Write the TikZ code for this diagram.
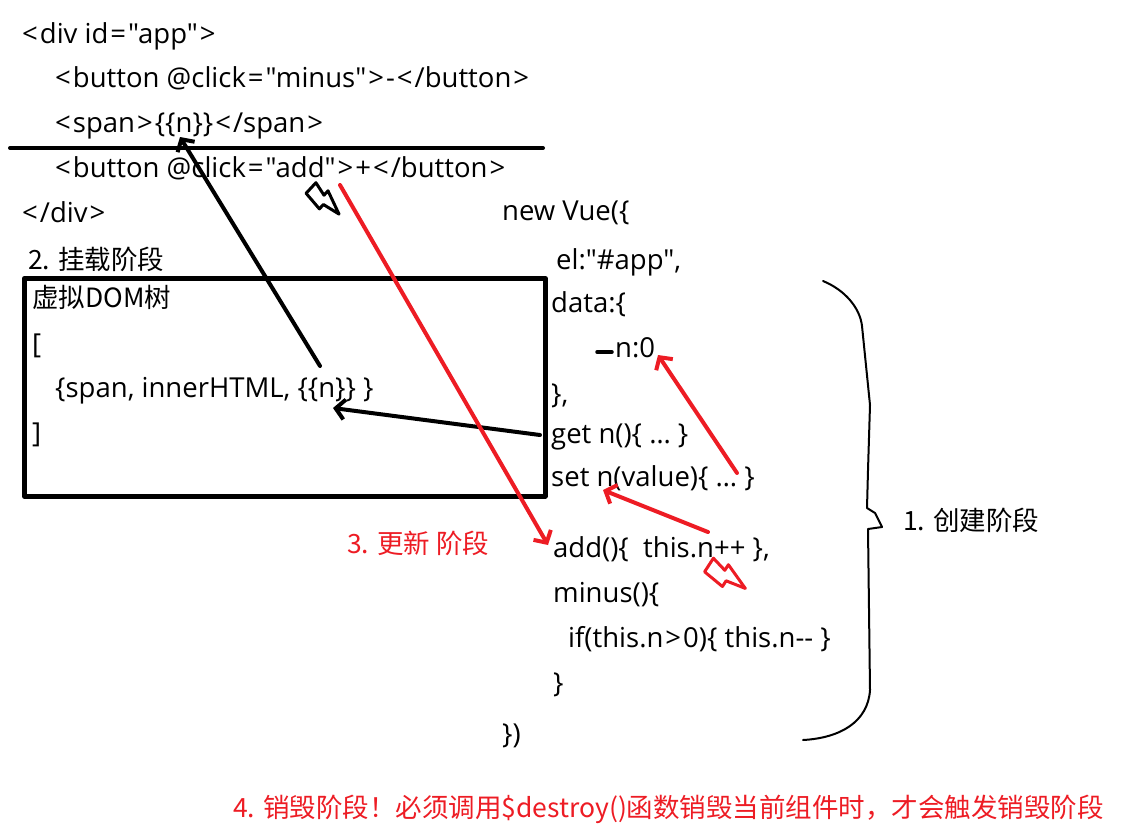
\documentclass[tikz,border=0pt]{standalone}
\usepackage{fontspec}
\setmainfont{Open Sans}
\newfontfamily\codefont{Open Sans}
\newfontfamily\cjk{Noto Sans CJK SC}
\usetikzlibrary{arrows.meta}
\definecolor{paintred}{RGB}{237,28,36}
\newcommand\ltc{\kern2pt<\kern2pt}
\newcommand\gtc{\kern2pt>\kern2pt}
\newcommand\eqc{\kern2pt=\kern2pt}

\begin{document}
\begin{tikzpicture}[x=1pt, y=-1pt, line cap=round, line join=round,
        every node/.append style={inner sep=0pt, anchor=west,
          text height=20pt, text depth=0pt}]
      \tikzstyle{code} = [font=\fontsize{27.5}{32}\selectfont\codefont, color=black]
      \tikzstyle{stage} = [font=\fontsize{26.5}{31}\selectfont\cjk, color=black]
      \tikzstyle{redstage} = [stage, color=paintred]
      \tikzstyle{blackarrow} = [line width=4pt, -{Straight Barb[length=9pt,width=20pt]}]
      \tikzstyle{redarrow} = [blackarrow, draw=paintred]
      \tikzstyle{bolt} = [line width=3pt]
      \useasboundingbox (0,0) rectangle (1142,830);
      % template
      \node[code] (divopen) at (20,33) {\ltc div id\eqc"app"\gtc};
      \node[code] (btnminus) at (53,77) {\ltc button @click\eqc"minus"\gtc-\ltc/button\gtc};
      \node[code] (spanline) at (53,122) {\ltc span\gtc\{\{n\}\}\ltc/span\gtc};
      \node[code] (btnadd) at (53,167) {\ltc button @click\eqc"add"\gtc+\ltc/button\gtc};
      \node[code] (divclose) at (20,212) {\ltc/div\gtc};
      \draw[line width=4pt] (10,148) -- (543,148);
      % vue instance
      \node[code] (newvue) at (502,210) {new Vue(\{};
      \node[code] (el) at (556,259) {el:"\#app",};
      \node[code] (data) at (551,302) {data:\{};
      \node[code] (nzero) at (615,347) {n:0};
      \draw[line width=3.5pt] (597,352) -- (612,352);
      \node[code] (dataend) at (551,393) {\},};
      \node[code] (getter) at (551,433) {get n()\{ … \}};
      \node[code] (setter) at (551,476) {set n(value)\{ … \}};
      \node[code] (add) at (553,547) {add()\{\ \ this.n++ \},};
      \node[code] (minus) at (553,592) {minus()\{};
      \node[code] (ifline) at (568,637) {if(this.n\gtc 0)\{ this.n-- \}};
      \node[code] (minusend) at (553,682) {\}};
      \node[code] (vueend) at (502,733) {\})};
      % virtual dom
      \node[stage] (mount) at (28,259) {2. 挂载阶段};
      \node[draw, line width=4.5pt, anchor=north west, minimum width=521pt,
        minimum height=218pt] (vdom) at (22,276) {};
      \node[stage] (vdomtitle) at (32,297) {虚拟DOM树};
      \node[code] (bropen) at (32,343) {[};
      \node[code] (vnode) at (55,387) {\{span, innerHTML, \{\{n\}\} \}};
      \node[code] (brclose) at (32,432) {]};
      % stages
      \node[redstage] (update) at (347,543) {3. 更新 阶段};
      \node[stage] (create) at (903,520) {1. 创建阶段};
      \node[redstage] (destroy) at (233,807) {4. 销毁阶段！必须调用\$destroy()函数销毁当前组件时，才会触发销毁阶段};
      % brace
      \draw[line width=2pt] (823,281) .. controls (845,290) and (860,308) .. (862,326)
        -- (870,405) -- (868,470) -- (867,508) -- (875,513) -- (882,527) -- (868,529)
        -- (870,690) .. controls (868,722) and (840,738) .. (803,740);
      % arrows
      \coordinate (spann) at (180,137);
      \coordinate (vdomtail) at (320,366);
      \coordinate (vnoden) at (333,408);
      \coordinate (gettail) at (540,435);
      \coordinate (addtail) at (340,185);
      \coordinate (addhead) at (548,545);
      \coordinate (settail) at (737,473);
      \coordinate (nzerohead) at (658,355);
      \coordinate (plustail) at (708,532);
      \coordinate (setn) at (603,490);
      \draw[blackarrow] (vdomtail) -- (spann);
      \draw[blackarrow] (gettail) -- (vnoden);
      \draw[redarrow] (addtail) -- (addhead);
      \draw[redarrow] (settail) -- (nzerohead);
      \draw[redarrow] (plustail) -- (setn);
      % bolts
      \draw[bolt] (306.1,193.3) -- (315.9,182.7) -- (324,195.2) -- (328,190.8)
        -- (339,214.1) -- (323.4,204.5) -- (319.4,208.9) -- cycle;
      \draw[bolt, paintred] (704.6,571.8) -- (713.4,558.2) -- (724.8,570.3) -- (728.4,564.7)
        -- (745.3,588.4) -- (726.1,580.8) -- (722.4,586.5) -- cycle;
\end{tikzpicture}
\end{document}
